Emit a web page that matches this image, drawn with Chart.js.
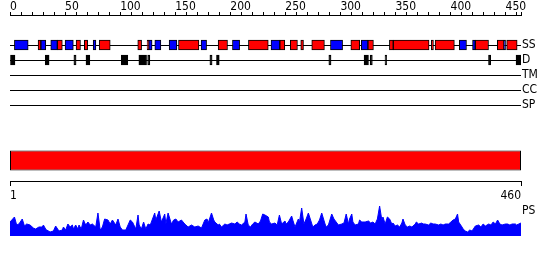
<!DOCTYPE html>
<html>
<head>
<meta charset="utf-8">
<script src="https://cdn.jsdelivr.net/npm/chart.js@4.4.1/dist/chart.umd.min.js"></script>
<style>
  html, body { margin: 0; padding: 0; background: #fff; }
  #chart { display: block; }
</style>
</head>
<body>
<canvas id="chart" width="550" height="260"></canvas>
<script>
// Track names shown on the right, top to bottom
const trackLabels = ['SS', 'D', 'TM', 'CC', 'SP', 'PS'];
const seqStart = 1;
const seqEnd = 460;

// Secondary structure segments, [start, end] in residues
const helixSegments = [
  [25.5, 28], [43, 47.5], [60, 64], [67.5, 70.5], [81, 91], [116, 119.5], [124.5, 126],
  [153, 171.5], [189, 197.5], [216.5, 234.5], [245, 249.5], [254.5, 261], [264, 266.5],
  [274, 285.5], [309.5, 317.5], [325, 330], [344.5, 348], [348, 380.5], [382.5, 384.5],
  [386, 403.5], [422.5, 434.5], [442.5, 448.5], [451, 460.5]
];
const strandSegments = [
  [4, 16.5], [28, 32.5], [37, 43], [50, 57.5], [75.5, 78], [126, 129], [131.5, 137],
  [144.5, 151.5], [173.5, 178.5], [202, 208.5], [237, 245], [291, 302], [319, 325],
  [408, 414.5], [420, 422.5], [448.5, 450]
];
// Disordered regions
const disorderSegments = [
  [0, 4.5], [32, 35.5], [58, 60], [69, 72.5], [101, 107], [117, 124], [125, 127],
  [181.5, 183.5], [187.5, 190], [289.5, 291.5], [321.5, 325.5], [327, 329], [340.5, 342],
  [434.5, 436.5], [459.5, 464]
];

// PS profile (residue, score)
const psPositions = [
  1, 5, 7, 9, 12, 14, 16, 19, 22, 24, 27, 30, 31, 33, 34, 37, 40, 42, 45, 48,
  49, 51, 53, 55, 57, 58, 60, 62, 63, 65, 67, 69, 71, 73, 75, 78, 80, 82, 84, 86,
  89, 91, 93, 96, 98, 100, 102, 105, 107, 109, 111, 114, 116, 117, 119, 121, 123, 125, 127, 131,
  132, 135, 137, 140, 141, 143, 146, 148, 150, 152, 155, 158, 161, 164, 167, 170, 173, 176, 178, 179,
  182, 184, 185, 188, 189, 191, 194, 196, 198, 200, 203, 205, 207, 209, 212, 213, 215, 217, 219, 221,
  224, 226, 228, 230, 233, 234, 236, 239, 241, 243, 245, 248, 249, 251, 254, 255, 257, 260, 261, 263,
  265, 267, 269, 271, 273, 275, 277, 279, 281, 284, 285, 287, 290, 292, 294, 296, 299, 301, 303, 305,
  306, 308, 309, 311, 314, 315, 317, 320, 323, 325, 327, 329, 331, 333, 335, 336, 338, 340, 342, 344,
  345, 347, 349, 351, 353, 354, 356, 358, 360, 362, 365, 366, 368, 371, 372, 374, 377, 379, 381, 383,
  386, 388, 390, 392, 395, 397, 399, 401, 403, 404, 407, 408, 410, 412, 414, 416, 419, 422, 424, 426,
  428, 431, 433, 435, 437, 439, 441, 443, 446, 448, 450, 452, 455, 456, 458, 460
];
const psScores = [
  14, 19, 11, 12, 17, 10, 12, 11, 8, 7, 9, 9, 11, 7, 6, 4, 5, 10, 5, 6,
  9, 6, 12, 9, 11, 7, 11, 7, 11, 7, 16, 11, 14, 11, 12, 9, 23, 6, 9, 17,
  16, 12, 16, 11, 17, 9, 6, 6, 11, 16, 14, 7, 21, 11, 7, 14, 7, 12, 11, 23,
  16, 25, 14, 22, 12, 23, 12, 16, 17, 14, 16, 12, 9, 11, 9, 10, 8, 16, 17, 13,
  23, 16, 14, 11, 12, 9, 12, 11, 12, 13, 12, 14, 12, 11, 14, 22, 11, 9, 12, 14,
  12, 15, 22, 21, 19, 14, 12, 13, 11, 21, 12, 15, 12, 14, 20, 16, 9, 17, 14, 28,
  12, 17, 23, 16, 9, 11, 12, 16, 23, 12, 9, 11, 22, 17, 14, 11, 12, 13, 22, 12,
  17, 22, 14, 11, 12, 16, 14, 14, 15, 13, 14, 12, 17, 30, 16, 19, 12, 19, 17, 12,
  13, 10, 11, 9, 13, 17, 11, 9, 10, 9, 12, 14, 12, 13, 12, 12, 11, 13, 12, 12,
  11, 12, 11, 12, 12, 14, 16, 17, 22, 14, 9, 7, 5, 4, 6, 5, 10, 11, 9, 12,
  10, 12, 11, 14, 12, 16, 12, 11, 12, 12, 11, 12, 12, 11, 12, 13
];

// row index of every track on the hidden y scale
const rowOf = { SS: 1, D: 2, TM: 3, CC: 4, SP: 5, bar: 8.69, ruler: 10.07, PS: 12.07 };

Chart.defaults.font.family = '"Liberation Sans Narrow", "DejaVu Sans Condensed", "Liberation Sans", sans-serif';
Chart.defaults.font.size = 12;
Chart.defaults.color = '#000';

const toBars = (segs, row) => segs.map(s => ({ x: s, y: row }));

// boxes are not grouped side by side: each sits centred on its row
const barCommon = {
  type: 'bar',
  indexAxis: 'y',
  xAxisID: 'x',
  yAxisID: 'y',
  grouped: false,
  borderColor: '#000',
  borderWidth: 1,
  borderSkipped: false,
  barPercentage: 1,
  categoryPercentage: 1,
  maxBarThickness: 10
};

new Chart(document.getElementById('chart'), {
  type: 'line',
  data: {
    datasets: [
      { ...barCommon, data: toBars(helixSegments, rowOf.SS), backgroundColor: '#ff0000' },
      { ...barCommon, data: toBars(strandSegments, rowOf.SS), backgroundColor: '#0000ff' },
      { ...barCommon, data: toBars(disorderSegments, rowOf.D), backgroundColor: '#000' },
      {
        ...barCommon,
        xAxisID: 'x2',
        data: [{ x: [seqStart, seqEnd], y: rowOf.bar }],
        backgroundColor: '#ff0000',
        barPercentage: 1.5,
        maxBarThickness: 20
      },
      {
        type: 'line',
        xAxisID: 'x2',
        yAxisID: 'yPS',
        data: psPositions.map((p, i) => ({ x: p, y: psScores[i] })),
        borderColor: '#0000ff',
        backgroundColor: '#0000ff',
        borderWidth: 1,
        pointRadius: 0,
        tension: 0,
        fill: 'origin'
      }
    ]
  },
  options: {
    responsive: false,
    animation: false,
    devicePixelRatio: 1,
    layout: { padding: { left: 10, right: 0, top: 1, bottom: 24 } },
    plugins: { legend: { display: false }, tooltip: { enabled: false } },
    scales: {
      x: {
        type: 'linear',
        position: 'top',
        min: 0,
        max: 464,
        bounds: 'data',
        offset: false,
        afterFit: (scale) => { scale.height = 14; },
        border: { display: true, color: '#000', width: 1 },
        grid: { drawOnChartArea: false, drawTicks: true, tickLength: 3, color: '#000', offset: false },
        ticks: {
          stepSize: 10,
          includeBounds: false,
          autoSkip: false,
          maxRotation: 0,
          minRotation: 0,
          align: 'start',
          padding: -2,
          callback: (v) => (v % 50 === 0 ? v : '')
        }
      },
      x2: {
        type: 'linear',
        position: { y: rowOf.ruler },
        min: seqStart,
        max: seqEnd,
        bounds: 'data',
        offset: false,
        afterBuildTicks: (scale) => { scale.ticks = [{ value: seqStart }, { value: seqEnd }]; },
        border: { display: true, color: '#000', width: 1 },
        grid: { drawOnChartArea: false, drawTicks: true, tickLength: 4, color: '#000', offset: false },
        ticks: { align: 'inner', autoSkip: false, maxRotation: 0, padding: 4 }
      },
      y: {
        type: 'linear',
        position: 'right',
        reverse: true,
        min: -1,
        max: 13.73,
        bounds: 'data',
        offset: false,
        afterFit: (scale) => { scale.width = 29; },
        afterBuildTicks: (scale) => {
          scale.ticks = trackLabels.map(name => ({ value: rowOf[name] }));
        },
        border: { display: false },
        grid: {
          drawTicks: false,
          offset: false,
          lineWidth: 1,
          color: (ctx) => (ctx.index < 5 ? '#000' : 'rgba(0,0,0,0)')
        },
        ticks: { padding: 1, autoSkip: false, callback: (v, i) => trackLabels[i] }
      },
      yPS: {
        type: 'linear',
        display: false,
        min: 0,
        max: 221,
        bounds: 'data'
      }
    }
  }
});
</script>
</body>
</html>
